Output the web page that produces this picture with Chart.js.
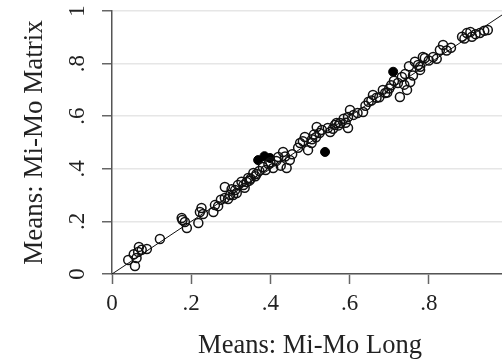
<!DOCTYPE html>
<html>
<head>
<meta charset="utf-8">
<script src="https://cdn.jsdelivr.net/npm/chart.js@4"></script>
<style>
  html, body { margin: 0; padding: 0; background: #fff; overflow: hidden; }
</style>
</head>
<body>
<canvas id="chart" width="520" height="364"></canvas>
<script>
// open circles: [Mi-Mo Long, Mi-Mo Matrix]
const openLong = [
  .041, .058, .062, .066, .068, .088, .075, .121, .055,
  .176, .184, .189, .218, .222, .226, .178, .230,
  .256, .260, .268, .285, .285, .298, .306, .311, .318, .327, .340, .344, .293, .275, .302, .332, .315,
  .357, .362, .381, .388, .407, .415, .432, .441, .449, .372, .395, .420, .426, .350, .400, .437, .455,
  .475, .487, .495, .504, .517, .510, .524, .551, .563, .576, .567, .585, .596, .596, .601, .470, .482, .530, .545, .558, .590, .610, .620,
  .634, .640, .648, .659, .668, .684, .690, .700, .722, .732, .727, .745, .753, .738, .760, .765, .773, .778, .778, .785, .790, .712, .740, .750,
  .811, .820, .828, .836, .845, .884, .896, .909, .918, .929, .940, .949, .890, .905, .856,
  .335, .347, .365, .505, .515, .572, .655, .675, .695, .705, .800
];
const openMatrix = [
  .053, .030, .061, .084, .103, .095, .092, .133, .075,
  .213, .198, .175, .194, .236, .251, .205, .228,
  .236, .262, .258, .289, .331, .300, .300, .319, .338, .351, .350, .365, .285, .282, .322, .338, .308,
  .384, .372, .407, .395, .403, .430, .464, .403, .433, .392, .418, .445, .412, .362, .425, .447, .455,
  .498, .521, .471, .498, .559, .530, .536, .540, .567, .574, .574, .590, .597, .555, .624, .480, .505, .548, .555, .552, .575, .605, .612,
  .616, .640, .655, .681, .670, .700, .688, .705, .726, .749, .673, .700, .730, .720, .755, .807, .795, .776, .788, .825, .821, .735, .760, .790,
  .825, .818, .852, .871, .850, .902, .916, .902, .912, .916, .925, .928, .895, .920, .860,
  .328, .355, .380, .512, .520, .565, .660, .672, .690, .718, .812
];
// filled dots
const filledLong = [.369, .385, .399, .538, .710];
const filledMatrix = [.433, .448, .441, .464, .769];
// 45-degree reference line
const lineEnds = [0, 1];
const tickValues = [0, .2, .4, .6, .8, 1];

const toPoints = (xs, ys) => xs.map((x, i) => ({ x: x, y: ys[i] }));
const fmt = (v) => {
  const r = Math.round(v * 10) / 10;
  if (r === 0) return "0";
  if (r === 1) return "1";
  return String(r).replace(/^0/, "");
};

const serif = "'Liberation Serif', 'DejaVu Serif', serif";

new Chart(document.getElementById("chart").getContext("2d"), {
  type: "scatter",
  data: {
    datasets: [
      {
        data: toPoints(lineEnds, lineEnds),
        showLine: true,
        borderColor: "#111",
        borderWidth: 1,
        pointRadius: 0,
        order: 0,
      },
      {
        data: toPoints(openLong, openMatrix),
        pointRadius: 4.5,
        pointBorderWidth: 1.5,
        pointBorderColor: "#111",
        pointBackgroundColor: "rgba(0,0,0,0)",
        order: 1,
      },
      {
        data: toPoints(filledLong, filledMatrix),
        pointRadius: 4.5,
        pointBorderWidth: 1,
        pointBorderColor: "#000",
        pointBackgroundColor: "#000",
        order: 1,
      },
    ],
  },
  options: {
    responsive: false,
    animation: false,
    layout: { padding: { top: 11, right: 12, left: 0, bottom: 0 } },
    plugins: { legend: { display: false }, tooltip: { enabled: false } },
    scales: {
      x: {
        type: "linear",
        min: 0,
        max: 1,
        afterBuildTicks: (s) => { s.ticks = tickValues.map((v) => ({ value: v })); },
        afterFit: (s) => { s.height = 90; s.paddingLeft = 0; s.paddingRight = 0; },
        grid: { drawOnChartArea: false, tickLength: 10, tickColor: "#666", tickWidth: 1.5 },
        border: { color: "#555", width: 1.5 },
        ticks: { callback: fmt, color: "#222", padding: 6, maxRotation: 0, font: { family: serif, size: 23 } },
        title: { display: true, text: "Means: Mi-Mo Long", color: "#222", padding: { top: 0, bottom: 2 }, font: { family: serif, size: 26.5 } },
      },
      y: {
        type: "linear",
        min: 0,
        max: 1,
        afterBuildTicks: (s) => { s.ticks = tickValues.map((v) => ({ value: v })); },
        afterFit: (s) => { s.width = 112; s.paddingTop = 0; s.paddingBottom = 0; },
        grid: { color: "#e6e6e6", lineWidth: 1.5, tickLength: 10, tickColor: "#666", tickWidth: 1.5 },
        border: { color: "#555", width: 1.5 },
        ticks: { callback: fmt, color: "#222", padding: 15, minRotation: 90, maxRotation: 90, crossAlign: "center", font: { family: serif, size: 23 } },
        title: { display: true, text: "Means: Mi-Mo Matrix", color: "#222", padding: { top: 19, bottom: 0 }, font: { family: serif, size: 27 } },
      },
    },
  },
});
</script>
</body>
</html>
